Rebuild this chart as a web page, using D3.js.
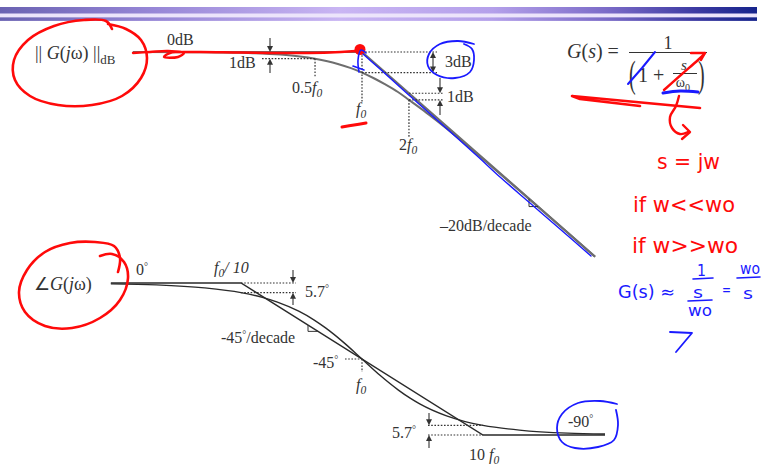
<!DOCTYPE html>
<html>
<head>
<meta charset="utf-8">
<script src="https://cdn.jsdelivr.net/npm/d3@7"></script>
<style>
  html, body { margin: 0; padding: 0; background: #fff; overflow: hidden; }
  svg { display: block; }
</style>
</head>
<body>
<script>
// ---- Single-pole low-pass G(s) = 1 / (1 + s/w0); frequency normalised to f0 ----

// Magnitude: exact response (dB)
const magFreq = [0.034, 0.1, 0.2, 0.3, 0.4, 0.5, 0.6, 0.7, 0.85, 1, 1.2, 1.4, 1.7, 2, 2.5, 3, 4, 5, 7, 10, 15, 20, 31.2];
const magDb   = [0, -0.04, -0.17, -0.37, -0.64, -0.97, -1.34, -1.74, -2.36, -3.01, -3.87, -4.70, -5.84, -6.99, -8.60, -10.0, -12.3, -14.15, -17.0, -20.04, -23.54, -26.03, -29.89];
// Magnitude: straight-line asymptotes
const magAsymFreq = [0.034, 1, 31.2];
const magAsymDb   = [0, 0, -29.89];

// Phase: exact response (degrees)
const phaseFreq = [0.0084, 0.02, 0.05, 0.1, 0.15, 0.2, 0.3, 0.4, 0.5, 0.7, 1, 1.4, 2, 2.5, 3, 5, 7, 10, 20, 50, 102];
const phaseDeg  = [-0.5, -1.1, -2.9, -5.7, -8.5, -11.3, -16.7, -21.8, -26.6, -35.0, -45, -54.5, -63.4, -68.2, -71.6, -78.7, -81.9, -84.3, -87.1, -88.9, -89.4];
// Phase: straight-line asymptotes
const phaseAsymFreq = [0.0084, 0.1, 10, 102];
const phaseAsymDeg  = [0, 0, -90, -90];

// Deviation marks between exact curve and asymptotes
const magMarkFreq = [0.5, 1, 2];
const magMarkExact = [-0.97, -3.01, -6.99];
const magMarkAsym = [0, 0, -6.02];
const phaseMarkFreq = [0.1, 1, 10];
const phaseMarkExact = [-5.7, -45, -84.3];
const phaseMarkAsym = [0, -45, -90];

const W = 761, H = 466;
const svg = d3.select("body").append("svg").attr("width", W).attr("height", H);

// ---- Title band ----
const defs = svg.append("defs");
const grad = defs.append("linearGradient").attr("id", "band").attr("x1", 0).attr("x2", 1).attr("y1", 0).attr("y2", 0);
[[0, "#6a62b2"], [0.2, "#9686d6"], [0.45, "#c9b5f3"], [0.65, "#b4a0ea"], [0.8, "#7c6cc8"], [0.92, "#3c3aa2"], [1, "#16248c"]]
  .forEach(([o, c]) => grad.append("stop").attr("offset", o).attr("stop-color", c));
svg.append("rect").attr("x", 0).attr("y", 13).attr("width", 757).attr("height", 4).attr("fill", "#ece4fb");
svg.append("rect").attr("x", 0).attr("y", 7).attr("width", 757).attr("height", 6.5).attr("fill", "url(#band)");
svg.append("rect").attr("x", 0).attr("y", 17.3).attr("width", 757).attr("height", 3.6).attr("fill", "url(#band)");

// ---- Scales ----
const xMag = d3.scaleLog().domain([0.1, 10]).range([206, 518]);   // 156 px per decade
const yMag = d3.scaleLinear().domain([0, -30]).range([52, 257.5]);
const xPh  = d3.scaleLog().domain([0.1, 10]).range([241, 483]);   // 121 px per decade
const yPh  = d3.scaleLinear().domain([0, -90]).range([283, 435]);

const serif = "'Liberation Serif', 'Times New Roman', serif";
const ink = "#333";
const dotted = "1.6,1.6";

function zipPts(fx, fy, xs, ys) { return xs.map((v, i) => [fx(v), fy(ys[i])]); }

const g = svg.append("g");
const curve = d3.line().curve(d3.curveMonotoneX);
const straightLine = d3.line();

// ---- Magnitude plot ----
g.append("path").attr("d", straightLine(zipPts(xMag, yMag, magAsymFreq, magAsymDb)))
  .attr("fill", "none").attr("stroke", "#6e6e6e").attr("stroke-width", 2.2);
g.append("path").attr("d", curve(zipPts(xMag, yMag, magFreq, magDb)))
  .attr("fill", "none").attr("stroke", "#6e6e6e").attr("stroke-width", 2);

// ---- Phase plot ----
g.append("path").attr("d", straightLine(zipPts(xPh, yPh, phaseAsymFreq, phaseAsymDeg)))
  .attr("fill", "none").attr("stroke", "#2a2a2a").attr("stroke-width", 1.4);
g.append("path").attr("d", curve(zipPts(xPh, yPh, phaseFreq, phaseDeg)))
  .attr("fill", "none").attr("stroke", "#2a2a2a").attr("stroke-width", 1.4);

// ---- helpers ----
function dot(x1, y1, x2, y2) {
  g.append("line").attr("x1", x1).attr("y1", y1).attr("x2", x2).attr("y2", y2)
    .attr("stroke", ink).attr("stroke-width", 1.2).attr("stroke-dasharray", dotted);
}
function arrow(x, yFrom, yTo) {
  const dir = yTo > yFrom ? 1 : -1;
  g.append("line").attr("x1", x).attr("y1", yFrom).attr("x2", x).attr("y2", yTo - dir * 4)
    .attr("stroke", ink).attr("stroke-width", 1.1);
  g.append("path").attr("d", `M${x - 3},${yTo - dir * 6}L${x + 3},${yTo - dir * 6}L${x},${yTo}Z`).attr("fill", ink);
}
// parts: t text, i italic, sub subscript (shifted down), up superscript (shifted up),
// fs font size, dy explicit baseline shift
function label(x, y, parts, size, anchor) {
  const t = g.append("text").attr("x", x).attr("y", y).attr("font-family", serif)
    .attr("font-size", size).attr("fill", "#333").attr("text-anchor", anchor || "start");
  parts.forEach(p => {
    const s = t.append("tspan").text(p.t);
    if (p.i) s.attr("font-style", "italic");
    if (p.sub) s.attr("font-size", size * 0.72).attr("dy", size * 0.28);
    if (p.up) s.attr("dy", -size * 0.3);
    if (p.fs) s.attr("font-size", p.fs);
    if (p.dy !== undefined) s.attr("dy", p.dy);
  });
  return t;
}
function slopeMark(xs, ys, fa, fb, valA, valB) {
  const xa = xs(fa), xb = xs(fb), ya = ys(valA), yb = ys(valB);
  g.append("path").attr("d", `M${xa},${ya}L${xa},${yb}L${xb},${yb}`)
    .attr("fill", "none").attr("stroke", ink).attr("stroke-width", 1);
}

// Magnitude deviation marks
// 0.5 f0 : 1 dB
dot(262, yMag(magMarkExact[0]), xMag(magMarkFreq[0]), yMag(magMarkExact[0]));
dot(xMag(magMarkFreq[0]), yMag(magMarkExact[0]), xMag(magMarkFreq[0]), 77);
arrow(270, 38, yMag(magMarkAsym[0]));
arrow(270, 73, yMag(magMarkExact[0]));
// f0 : 3 dB
dot(xMag(magMarkFreq[1]), yMag(magMarkAsym[1]), 437, yMag(magMarkAsym[1]));
dot(xMag(magMarkFreq[1]), yMag(magMarkExact[1]), 437, yMag(magMarkExact[1]));
dot(xMag(magMarkFreq[1]), yMag(magMarkAsym[1]), xMag(magMarkFreq[1]), 102);
arrow(433, 62, yMag(magMarkAsym[1]));
arrow(433, 62, yMag(magMarkExact[1]));
// 2 f0 : 1 dB
dot(xMag(magMarkFreq[2]), yMag(magMarkAsym[2]), 443, yMag(magMarkAsym[2]));
dot(xMag(magMarkFreq[2]), yMag(magMarkExact[2]), 443, yMag(magMarkExact[2]));
dot(xMag(magMarkFreq[2]), yMag(magMarkExact[2]), xMag(magMarkFreq[2]), 137);
arrow(440, 78, yMag(magMarkAsym[2]));
arrow(440, 115, yMag(magMarkExact[2]));
// slope triangle on -20 dB/decade
{
  const fa = xMag.invert(529), fb = xMag.invert(538);
  slopeMark(xMag, yMag, fa, fb, -20 * Math.log10(fa), -20 * Math.log10(fb));
}

// Phase deviation marks
dot(xPh(phaseMarkFreq[0]), yPh(phaseMarkAsym[0]), 296, yPh(phaseMarkAsym[0]));
dot(xPh(phaseMarkFreq[0]), yPh(phaseMarkExact[0]), 296, yPh(phaseMarkExact[0]));
arrow(293, 270, yPh(phaseMarkAsym[0]));
arrow(293, 305, yPh(phaseMarkExact[0]));
dot(345, yPh(phaseMarkExact[1]), xPh(phaseMarkFreq[1]), yPh(phaseMarkExact[1]));
dot(xPh(phaseMarkFreq[1]), yPh(phaseMarkExact[1]), xPh(phaseMarkFreq[1]), 372);
dot(428, yPh(phaseMarkExact[2]), xPh(phaseMarkFreq[2]), yPh(phaseMarkExact[2]));
dot(428, yPh(phaseMarkAsym[2]), xPh(phaseMarkFreq[2]), yPh(phaseMarkAsym[2]));
arrow(429, 413, yPh(phaseMarkExact[2]));
arrow(429, 448, yPh(phaseMarkAsym[2]));
{
  const fa = xPh.invert(308), fb = xPh.invert(318);
  slopeMark(xPh, yPh, fa, fb, -45 * (1 + Math.log10(fa)), -45 * (1 + Math.log10(fb)));
}

// ---- Labels ----
label(35, 59, [{t: "|| "}, {t: "G", i: 1}, {t: "("}, {t: "j", i: 1}, {t: "ω)"}, {t: " ||"}, {t: "dB", sub: 1}], 18);
label(167, 45, [{t: "0dB"}], 16);
label(229, 68, [{t: "1dB"}], 16);
label(292, 93, [{t: "0.5"}, {t: "f", i: 1}, {t: "0", sub: 1, i: 1}], 16);
label(356, 114, [{t: "f", i: 1}, {t: "0", sub: 1, i: 1}], 16);
label(445, 67, [{t: "3dB"}], 16);
label(447, 102, [{t: "1dB"}], 16);
label(399, 150, [{t: "2"}, {t: "f", i: 1}, {t: "0", sub: 1, i: 1}], 16);
label(440, 231, [{t: "–20dB/decade"}], 16);

label(34, 290, [{t: "∠"}, {t: "G", i: 1}, {t: "("}, {t: "j", i: 1}, {t: "ω)"}], 18);
label(136, 275, [{t: "0"}, {t: "°", fs: 10, up: 1}], 16);
label(214, 273, [{t: "f", i: 1}, {t: "0", sub: 1, i: 1}, {t: "/ 10", i: 1, dy: -4.48}], 16);
label(305, 297, [{t: "5.7"}, {t: "°", fs: 10, up: 1}], 16);
label(221, 343, [{t: "-45"}, {t: "°", fs: 10, up: 1}, {t: "/decade", dy: 4.8}], 16);
label(313, 368, [{t: "-45"}, {t: "°", fs: 10, up: 1}], 16);
label(356, 390, [{t: "f", i: 1}, {t: "0", sub: 1, i: 1}], 16);
label(392, 438, [{t: "5.7"}, {t: "°", fs: 10, up: 1}], 16);
label(469, 460, [{t: "10 "}, {t: "f", i: 1}, {t: "0", sub: 1, i: 1}], 16);
label(568, 427, [{t: "-90"}, {t: "°", fs: 10, up: 1}], 16);

// ---- Transfer function ----
label(567, 58, [{t: "G", i: 1}, {t: "("}, {t: "s", i: 1}, {t: ") ="}], 20);
label(668, 49, [{t: "1"}], 18, "middle");
g.append("line").attr("x1", 629).attr("x2", 707).attr("y1", 52.5).attr("y2", 52.5).attr("stroke", "#333").attr("stroke-width", 1);
g.append("text").attr("x", 629).attr("y", 87).attr("font-family", serif).attr("font-size", 20).attr("fill", "#333")
  .attr("transform", "translate(629,87) scale(1,1.9) translate(-629,-87)").text("(");
g.append("text").attr("x", 698).attr("y", 87).attr("font-family", serif).attr("font-size", 20).attr("fill", "#333")
  .attr("transform", "translate(698,87) scale(1,1.9) translate(-698,-87)").text(")");
label(638, 82, [{t: "1 +"}], 20);
label(684, 70, [{t: "s", i: 1}], 15, "middle");
g.append("line").attr("x1", 673).attr("x2", 697).attr("y1", 73.5).attr("y2", 73.5).attr("stroke", "#333").attr("stroke-width", 1);
label(683, 87, [{t: "ω"}, {t: "0", sub: 1}], 14, "middle");

// ---- Handwritten notes ----
const notes = svg.append("g").attr("fill", "none").attr("stroke-linecap", "round").attr("stroke-linejoin", "round");
const RED = "#ff0a0a", BLUE = "#1a1aff";
const smooth = d3.line().curve(d3.curveCatmullRom.alpha(0.5));
function stroke(pts, color, w, curved) {
  notes.append("path").attr("d", (curved === false ? straightLine : smooth)(pts))
    .attr("stroke", color).attr("stroke-width", w);
}
// circled magnitude label
stroke([[112,29],[106,21],[84,20],[54,26],[28,40],[14,60],[15,80],[30,96],[58,105],[92,105],[122,96],[141,78],[147,58],[141,40],[126,29],[108,24]], RED, 2.6);
// trace along 0 dB with a flourish
stroke([[133,53],[150,52],[168,51],[184,53],[178,57],[164,57],[170,53],[196,52],[240,52.5],[300,53],[330,52.5],[356,51]], RED, 2.4);
notes.append("circle").attr("cx", 360).attr("cy", 49.5).attr("r", 5.5).attr("fill", RED);
stroke([[342,127],[354,125],[366,123]], RED, 3);
// blue trace just under the asymptote and tick at f0
stroke([[359,72],[358,60],[361,50],[366,53]], BLUE, 1.6);
stroke([[353,66],[364,70]], BLUE, 1.6, false);
stroke([[363,54],[380,69],[410,96],[450,131.5],[480,158.5],[500,177],[530,203],[560,229],[591,256]], BLUE, 1.4);
// circled 3dB
stroke([[474,44],[458,41],[440,44],[429,54],[428,66],[437,75],[455,78],[470,72],[474,60],[472,49],[464,44]], BLUE, 1.8);
// marks on the transfer function
stroke([[628,84],[642,68],[655,52]], BLUE, 2, false);
stroke([[663,93],[680,91],[698,92]], BLUE, 3);
stroke([[664,90],[682,74],[698,60],[705,53]], RED, 2.4);
stroke([[691,53],[705,53],[701,60]], RED, 2.4, false);
stroke([[640,106],[580,99],[572,96],[700,108]], RED, 2.6, false);
stroke([[679,96],[676,106],[670,117],[672,128],[680,134],[688,132]], RED, 2.4);
stroke([[683,125],[690,132],[682,139]], RED, 2.4, false);
// circled phase label and -90°
stroke([[118,272],[120,258],[114,246],[95,242],[70,243],[45,252],[27,270],[19,292],[25,312],[45,326],[72,328],[100,318],[120,300],[128,278],[124,262],[112,254],[100,256]], RED, 2.6);
stroke([[617,404],[600,401],[578,403],[562,414],[557,428],[562,442],[575,448],[598,447],[614,440],[618,425],[616,410]], BLUE, 1.8);

// handwritten text
const hand = "'DejaVu Sans', sans-serif";
function handText(x, y, txt, len, color, size) {
  notes.append("text").attr("x", x).attr("y", y).attr("font-family", hand).attr("font-size", size)
    .attr("fill", color).attr("stroke", "none").attr("textLength", len).attr("lengthAdjust", "spacingAndGlyphs").text(txt);
}
handText(657, 169, "s = jw", 63, RED, 21);
handText(633, 212, "if w<<wo", 102, RED, 21);
handText(632, 253, "if w>>wo", 106, RED, 21);
handText(618, 298, "G(s) ≈", 57, BLUE, 17);
handText(697, 276, "1", 9, BLUE, 15);
stroke([[693,279],[713,278]], BLUE, 1.6, false);
handText(693, 298, "s", 10, BLUE, 16);
stroke([[688,301],[712,300]], BLUE, 1.6, false);
handText(688, 316, "wo", 24, BLUE, 15);
handText(722, 295, "=", 9, BLUE, 15);
handText(740, 274, "wo", 20, BLUE, 15);
stroke([[737,278],[760,277]], BLUE, 1.6, false);
handText(743, 299, "s", 10, BLUE, 16);
stroke([[670,332],[692,333],[676,352]], BLUE, 1.8, false);
</script>
</body>
</html>
